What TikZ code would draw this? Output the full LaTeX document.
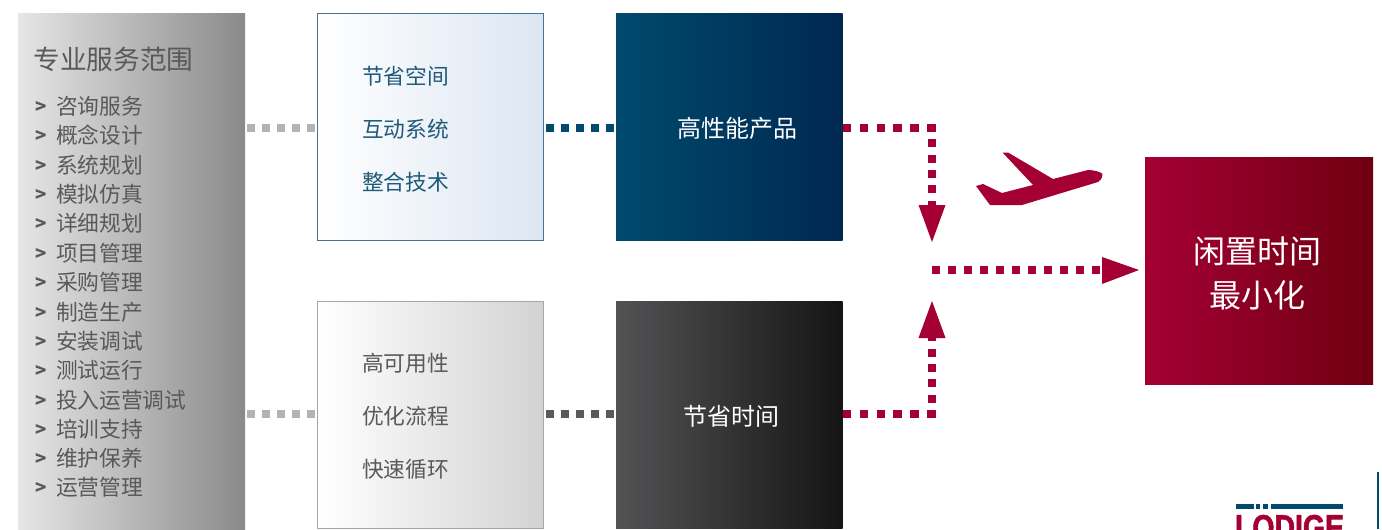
\documentclass[tikz,border=0pt]{standalone}
\usepackage{fontspec}
\setmainfont{Noto Sans CJK SC}[Scale=1]
\newfontfamily\logofont{Liberation Sans}[FakeStretch=0.79,FakeBold=1.5]
\usetikzlibrary{arrows.meta,shadings}
\definecolor{crim}{HTML}{A50034}
\definecolor{teal1}{HTML}{004A6E}
\definecolor{tealtxt}{HTML}{1F5A7A}
\definecolor{graytxt}{HTML}{595959}
\definecolor{dotgray}{HTML}{B3B3B3}
\definecolor{dotdark}{HTML}{5A5A5A}
\definecolor{navyend}{HTML}{002850}
\definecolor{paleblue}{HTML}{DCE6F2}
\definecolor{redend}{HTML}{6E0010}
\definecolor{panelend}{HTML}{8A8A8A}
\definecolor{panelmid}{HTML}{C0C0C0}
\definecolor{panelstart}{HTML}{E6E6E6}
\definecolor{darkstart}{HTML}{535355}
\tikzset{
  x=0.75pt,y=-0.75pt,
  card/.style={minimum width=170pt,minimum height=170.25pt,inner sep=0pt,outer sep=0pt},
  lightblue/.style={card,draw=teal1!75!white,line width=0.6pt,left color=white,right color=paleblue},
  navy/.style={card,left color=teal1,right color=navyend},
  lightgray/.style={card,draw=gray!70,line width=0.6pt,left color=white,right color=gray!35!white},
  darkcard/.style={card,left color=darkstart,right color=black!92},
  redcard/.style={card,left color=crim,right color=redend},
  cardtext/.style={inner sep=0pt,outer sep=0pt,anchor=center,align=center,text=white,font=\fontsize{18}{24}\selectfont},
  bigtext/.style={cardtext,font=\fontsize{24}{33}\selectfont},
  panel/.style={inner sep=0pt,outer sep=0pt,minimum width=170.25pt,minimum height=400pt,left color=panelstart,middle color=panelmid,right color=panelend},
  dotsbase/.style={line width=6pt},
  lbl/.style={inner sep=0pt,outer sep=0pt,anchor=west,font=\fontsize{16.3}{20}\selectfont},
  itm/.style={lbl,text=graytxt},
  mark2/.style={inner sep=0pt,outer sep=0pt,anchor=center,text=graytxt,font=\fontsize{14}{16}\selectfont\bfseries},
  dotsA/.style={dotsbase,dash pattern=on 6pt off 5.5pt},
  dotsB/.style={dotsbase,dash pattern=on 6.4pt off 6.3pt},
  dotsC/.style={dotsbase,dash pattern=on 6pt off 6pt},
  dotsD/.style={dotsbase,dash pattern=on 6pt off 5.3pt},
}
\begin{document}
\begin{tikzpicture}
\useasboundingbox (0,0) rectangle (1382,529);
\clip (0,0) rectangle (1382,529);
\node[panel,anchor=north west] (P) at (18,13) {};
\node[lightblue,anchor=north west] (A) at (317,13) {};
\node[navy,anchor=north west] (B) at (616,13) {};
\node[lightgray,anchor=north west] (C) at (317,301) {};
\node[darkcard,anchor=north west] (D) at (616,301) {};
\node[redcard,anchor=north west,minimum width=171pt] (R) at (1145,157) {};
\node[cardtext] (Bt) at (737,128.5) {高性能产品};
\node[cardtext] (Dt) at (731,416) {节省时间};
\node[bigtext] (Rt) at (1257,273) {闲置时间\\最小化};

\node[lbl,text=graytxt,font=\fontsize{20}{24}\selectfont] (T) at (33.5,59) {专业服务范围};
\foreach \i/\t/\yy in {a/咨询服务/106,b/概念设计/135,c/系统规划/165,d/模拟仿真/194,e/详细规划/223,f/项目管理/253,g/采购管理/282,h/制造生产/312,i/安装调试/341,j/测试运行/370,k/投入运营调试/400,l/培训支持/429,m/维护保养/458,n/运营管理/487}{
  \node[mark2] (m\i) at (41,\yy+1) {>};
  \node[itm] (t\i) at (56,\yy) {\t};
}
\node[lbl,text=tealtxt] (A1) at (362,76) {节省空间};
\node[lbl,text=tealtxt] (A2) at (362,129) {互动系统};
\node[lbl,text=tealtxt] (A3) at (362,182) {整合技术};
\node[lbl,text=graytxt] (C1) at (362,363) {高可用性};
\node[lbl,text=graytxt] (C2) at (362,416) {优化流程};
\node[lbl,text=graytxt] (C3) at (362,469) {快速循环};

% connectors
\coordinate (pa) at (247,128);
\coordinate (ap) at (A.west |- pa);
\coordinate (pc) at (247,414);
\coordinate (cp) at (C.west |- pc);
\coordinate (ab) at (546,128);
\coordinate (ba) at (B.west |- ab);
\coordinate (cd) at (546,414);
\coordinate (dc) at (D.west |- cd);
\draw[dotsD,draw=dotgray] (pa) -- (ap);
\draw[dotsD,draw=dotgray] (pc) -- (cp);
\draw[dotsD,draw=teal1] (ab) -- (ba);
\draw[dotsD,draw=dotdark] (cd) -- (dc);

\coordinate (tipA) at (932,242);
\coordinate (tipB) at (932,301);
\coordinate (startH) at (932,270);
\coordinate (baseA) at (932,206);
\coordinate (baseB) at (932,337);
\coordinate (baseH) at (1103,270);
\coordinate (tipH) at (1139,270);
\coordinate (bout) at (B.east |- 0,128);
\coordinate (dout) at (D.east |- 0,414);
\coordinate (bcorner) at (936,128);
\coordinate (dcorner) at (936,414);
\coordinate (bdown) at (932,124);
\coordinate (dup) at (932,418);
\draw[dotsB,draw=crim] (bout) -- (bcorner);
\draw[dotsB,draw=crim] (dout) -- (dcorner);
\draw[dotsA,draw=crim] (bdown) -- (baseA);
\draw[dotsA,draw=crim] (dup) -- (baseB);
\draw[dotsC,draw=crim] (startH) -- (baseH);
\fill[crim] (tipA) -- (945.5,205) -- (918.5,205) -- cycle;
\fill[crim] (tipB) -- (945.5,338) -- (918.5,338) -- cycle;
\fill[crim] (tipH) -- (1102,257) -- (1102,284) -- cycle;

% plane
\fill[crim] (1002.7,152.7) -- (1008,152.5) -- (1053,179) -- (1088,170)
  .. controls (1094,170) and (1101,172) .. (1102.5,174)
  .. controls (1102,179) and (1100,181) .. (1098,182)
  -- (1022,205) -- (990,205) -- (976,186) -- (983,184) -- (1002,193) -- (1033,185) -- cycle;

% logo
\fill[teal1] (1236,504) rectangle (1254,509);
\fill[teal1] (1256,504) rectangle (1260,509);
\fill[teal1] (1263,504) rectangle (1268,509);
\fill[teal1] (1271,504) rectangle (1343,509);
\node[inner sep=0pt,outer sep=0pt,anchor=base west,text=crim,font=\logofont\bfseries\fontsize{27}{27}\selectfont] (L) at (1235,540) {LODIGE};
\draw[teal1,line width=0.9pt] (1378,472) -- (1378,529);
\end{tikzpicture}
\end{document}
